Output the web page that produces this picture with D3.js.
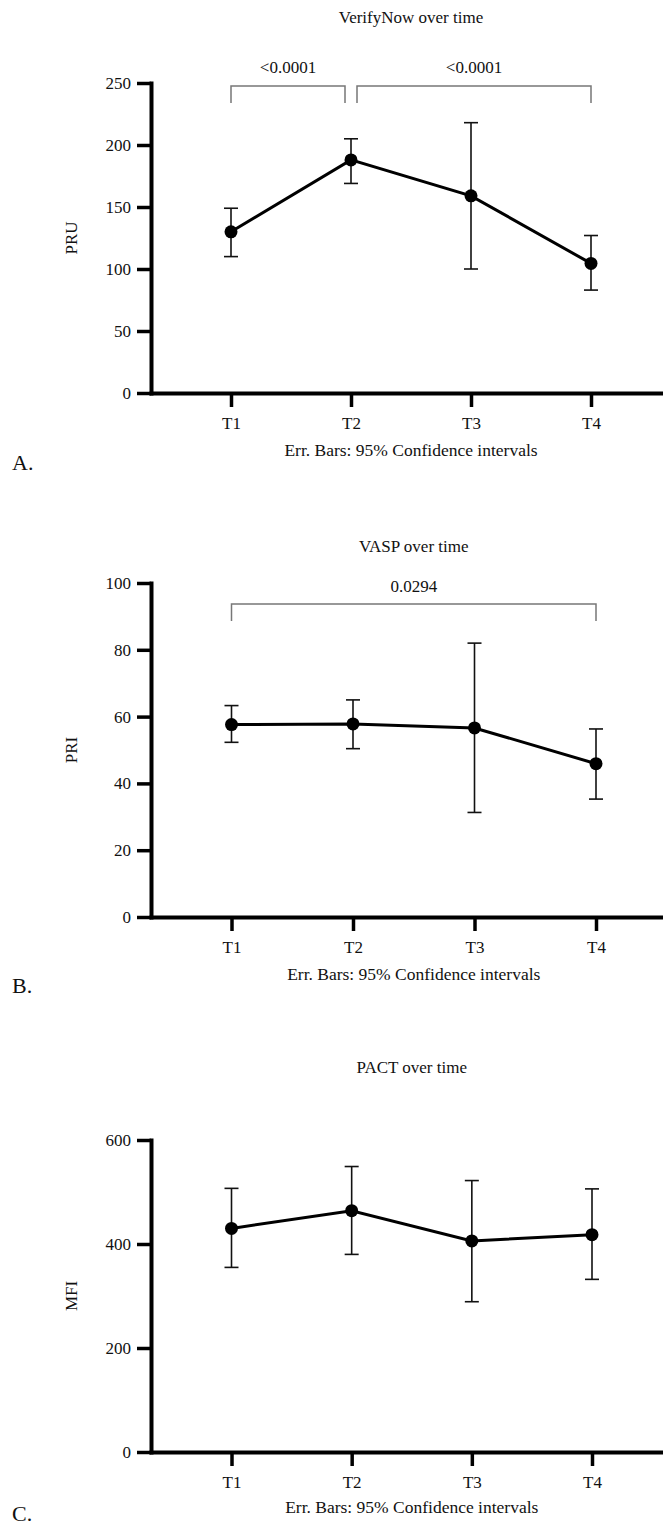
<!DOCTYPE html>
<html>
<head>
<meta charset="utf-8">
<script src="https://cdn.jsdelivr.net/npm/d3@7"></script>
<style>
  body { margin: 0; background: #fff; }
  svg { display: block; font-family: "Liberation Serif", "DejaVu Serif", serif; }
  .tick text { fill: #111; }
</style>
</head>
<body>
<svg width="663" height="1529"></svg>
<script>
// time points shared by all three panels
var timepoints = ["T1", "T2", "T3", "T4"];

// A. VerifyNow (PRU), mean with 95% CI
var pruMean = [130, 188, 159, 104.5];
var pruLow  = [110, 169, 100, 83];
var pruHigh = [149, 205, 218, 127];
var pruTicks = [0, 50, 100, 150, 200, 250];
var pruPairs = [["T1", "T2"], ["T2", "T4"]];
var pruP = ["<0.0001", "<0.0001"];

// B. VASP (PRI)
var priMean = [57.6, 57.8, 56.6, 45.9];
var priLow  = [52.3, 50.4, 31.3, 35.3];
var priHigh = [63.3, 65, 82, 56.3];
var priTicks = [0, 20, 40, 60, 80, 100];
var priPairs = [["T1", "T4"]];
var priP = ["0.0294"];

// C. PACT (MFI)
var mfiMean = [430, 464, 406, 418];
var mfiLow  = [355, 380, 289, 332];
var mfiHigh = [507, 549, 522, 506];
var mfiTicks = [0, 200, 400, 600];

var svg = d3.select("svg");

var panels = [
  { title: "VerifyNow over time", ylab: "PRU", letter: "A.",
    mean: pruMean, low: pruLow, high: pruHigh, ticks: pruTicks, pairs: pruPairs, p: pruP,
    top: 83, bottom: 393, ax: 151, t1: 231, t4: 591,
    titleY: 23, brTop: 86, brLabelY: 73, errY: 456, letterY: 470 },
  { title: "VASP over time", ylab: "PRI", letter: "B.",
    mean: priMean, low: priLow, high: priHigh, ticks: priTicks, pairs: priPairs, p: priP,
    top: 583, bottom: 917, ax: 151, t1: 231.5, t4: 596,
    titleY: 552, brTop: 604, brLabelY: 592, errY: 980, letterY: 993 },
  { title: "PACT over time", ylab: "MFI", letter: "C.",
    mean: mfiMean, low: mfiLow, high: mfiHigh, ticks: mfiTicks, pairs: [], p: [],
    top: 1140, bottom: 1452, ax: 151, t1: 231.5, t4: 592,
    titleY: 1073, brTop: 0, brLabelY: 0, errY: 1513, letterY: 1521 }
];

panels.forEach(function(pn) {
  var step = (pn.t4 - pn.t1) / 3,
      pad = (pn.t1 - pn.ax) / step,
      xEnd = pn.t4 + (pn.t1 - pn.ax),
      cx = (pn.ax + xEnd) / 2;

  var x = d3.scalePoint().domain(timepoints).range([pn.ax, xEnd]).padding(pad);
  var y = d3.scaleLinear()
      .domain([0, d3.max(pn.ticks)])
      .range([pn.bottom, pn.top]);

  var g = svg.append("g");

  // title
  g.append("text")
      .attr("x", cx).attr("y", pn.titleY)
      .attr("text-anchor", "middle")
      .style("font-size", "17px").style("fill", "#111")
      .text(pn.title);

  // significance brackets
  pn.pairs.forEach(function(pr, i) {
    var xa = x(pr[0]), xb = x(pr[1]);
    // leave a small gap where two brackets share a time point
    pn.pairs.forEach(function(o, j) {
      if (j === i) return;
      if (o[1] === pr[0]) xa += 6;
      if (o[0] === pr[1]) xb -= 6;
    });
    g.append("path")
        .attr("d", "M" + xa + "," + (pn.brTop + 17) + "V" + pn.brTop + "H" + xb + "V" + (pn.brTop + 17))
        .style("fill", "none")
        .style("stroke", "#777")
        .style("stroke-width", 1.5);
    g.append("text")
        .attr("x", (xa + xb) / 2).attr("y", pn.brLabelY)
        .attr("text-anchor", "middle")
        .style("font-size", "17px").style("fill", "#111")
        .text(pn.p[i]);
  });

  // axes
  var yAxis = g.append("g")
      .attr("transform", "translate(" + pn.ax + ",0)")
      .call(d3.axisLeft(y).tickValues(pn.ticks).tickSize(14).tickPadding(6).tickSizeOuter(0));
  var xAxis = g.append("g")
      .attr("transform", "translate(0," + pn.bottom + ")")
      .call(d3.axisBottom(x).tickSize(14).tickPadding(10).tickSizeOuter(0));

  [yAxis, xAxis].forEach(function(a) {
    a.attr("font-family", null).attr("font-size", null);
    a.select(".domain").style("stroke", "#000").style("stroke-width", 4).style("stroke-linecap", "square");
    a.selectAll(".tick line").style("stroke", "#000").style("stroke-width", 3.5);
    a.selectAll(".tick text").style("font-size", "17px");
  });

  // y label
  g.append("text")
      .attr("transform", "translate(77," + ((pn.top + pn.bottom) / 2) + ") rotate(-90)")
      .attr("text-anchor", "middle")
      .style("font-size", "17px").style("fill", "#111")
      .text(pn.ylab);

  // x caption
  g.append("text")
      .attr("x", cx).attr("y", pn.errY)
      .attr("text-anchor", "middle")
      .style("font-size", "17.5px").style("fill", "#111")
      .text("Err. Bars: 95% Confidence intervals");

  // panel letter
  g.append("text")
      .attr("x", 12).attr("y", pn.letterY)
      .style("font-size", "22px").style("fill", "#111")
      .text(pn.letter);

  // error bars
  var eb = g.selectAll(".eb")
      .data(timepoints)
    .enter().append("g")
      .attr("class", "eb")
      .style("stroke", "#111")
      .style("stroke-width", 1.6);
  eb.append("line")
      .attr("x1", function(d) { return x(d); })
      .attr("x2", function(d) { return x(d); })
      .attr("y1", function(d, i) { return y(pn.low[i]); })
      .attr("y2", function(d, i) { return y(pn.high[i]); });
  eb.append("line")
      .attr("x1", function(d) { return x(d) - 7; })
      .attr("x2", function(d) { return x(d) + 7; })
      .attr("y1", function(d, i) { return y(pn.high[i]); })
      .attr("y2", function(d, i) { return y(pn.high[i]); });
  eb.append("line")
      .attr("x1", function(d) { return x(d) - 7; })
      .attr("x2", function(d) { return x(d) + 7; })
      .attr("y1", function(d, i) { return y(pn.low[i]); })
      .attr("y2", function(d, i) { return y(pn.low[i]); });

  // mean line + dots
  var line = d3.line()
      .x(function(d) { return x(d); })
      .y(function(d, i) { return y(pn.mean[i]); });
  g.append("path")
      .datum(timepoints)
      .attr("d", line)
      .style("fill", "none")
      .style("stroke", "#000")
      .style("stroke-width", 3);
  g.selectAll(".dot")
      .data(timepoints)
    .enter().append("circle")
      .attr("class", "dot")
      .attr("cx", function(d) { return x(d); })
      .attr("cy", function(d, i) { return y(pn.mean[i]); })
      .attr("r", 6.5)
      .style("fill", "#000");
});
</script>
</body>
</html>
